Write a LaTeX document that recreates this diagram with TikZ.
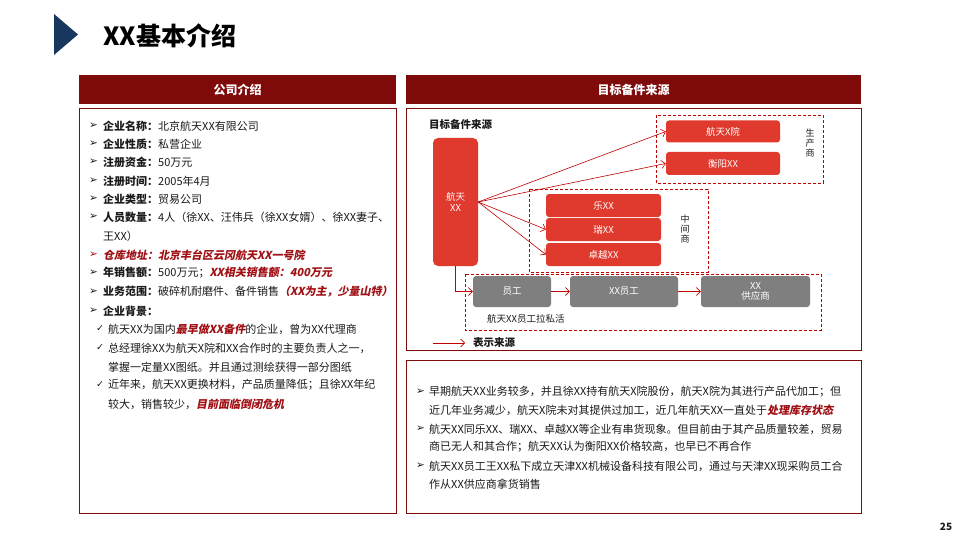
\documentclass[tikz,border=0pt]{standalone}
\usepackage{fontspec}
\setmainfont{Noto Sans CJK SC}
\newfontfamily\slantfont{Noto Sans CJK SC}[FakeSlant=0.2]
\newfontfamily\symfont{DejaVu Sans}
\usetikzlibrary{arrows.meta}
\definecolor{hdred}{HTML}{7F0A0A}
\definecolor{boxred}{HTML}{E0392D}
\definecolor{boxgray}{HTML}{7F7F7F}
\definecolor{arrred}{HTML}{C00000}
\definecolor{hlred}{HTML}{A00F14}
\definecolor{navy}{HTML}{17375E}
\definecolor{textc}{HTML}{1A1A1A}
\newcommand{\blt}{{\symfont\fontsize{10.5}{12}\selectfont ➢}}
\newcommand{\chk}{{\symfont\fontsize{9.5}{11}\selectfont ✓}}
\newcommand{\hl}[1]{{\slantfont\bfseries\color{hlred}#1}}
\begin{document}
\begin{tikzpicture}[x=1pt,y=-1pt,
  txt/.style={anchor=west, inner sep=0pt, font=\fontsize{11}{13}\selectfont, text=textc},
  bulletmark/.style={anchor=west, inner sep=0pt, text=textc},
  hdr/.style={fill=hdred, text=white, font=\fontsize{12}{14}\selectfont\bfseries, inner sep=0pt, minimum height=29pt, minimum width=317pt},
  panel/.style={draw=hdred, line width=0.8pt},
  redbox/.style={fill=boxred, rounded corners=3pt, text=white, inner sep=0pt, font=\fontsize{9.5}{11}\selectfont, align=center},
  graybox/.style={fill=boxgray, rounded corners=3pt, text=white, inner sep=0pt, font=\fontsize{9.5}{10.5}\selectfont, align=center, minimum height=31pt},
  dbox/.style={draw=arrred, dashed, dash pattern=on 3pt off 2pt, line width=0.8pt},
  arr/.style={draw=arrred, line width=0.6pt, -{Straight Barb[length=4pt,width=8pt]}},
  vlab/.style={inner sep=0pt, align=center, font=\fontsize{9}{10}\selectfont, text=textc}
]
\useasboundingbox (0,0) rectangle (960,540);
\fill[white] (0,0) rectangle (960,540);
% title
\fill[navy] (54,14) -- (78,34.5) -- (54,55) -- cycle;
\node[anchor=west, inner sep=0pt, font=\fontsize{25}{29}\selectfont\bfseries, text=black] (title) at (103,36) {XX基本介绍};
% headers
\node[hdr, minimum width=317pt] (hl) at (237.5,89.5) {公司介绍};
\node[hdr, minimum width=455pt] (hr) at (633.5,89.5) {目标备件来源};
% panels
\draw[panel] (79,108) rectangle (396,513);
\draw[panel] (406,108) rectangle (861,350);
\draw[panel] (406,360) rectangle (861,513);
% left text
\foreach \yy in {126,144,162,181,199,217,273,292,311} {\node[bulletmark] at (89,\yy) {\blt};}
\node[bulletmark, text=hlred] at (89,255) {\blt};
\foreach \yy in {329,348,385} {\node[bulletmark] at (96,\yy) {\chk};}
\node[txt] (l1) at (103,126) {\textbf{企业名称：}北京航天XX有限公司};
\node[txt] (l2) at (103,144) {\textbf{企业性质：}私营企业};
\node[txt] (l3) at (103,162) {\textbf{注册资金：}50万元};
\node[txt] (l4) at (103,181) {\textbf{注册时间：}2005年4月};
\node[txt] (l5) at (103,199) {\textbf{企业类型：}贸易公司};
\node[txt] (l6) at (103,217) {\textbf{人员数量：}4人（徐XX、汪伟兵（徐XX女婿）、徐XX妻子、};
\node[txt] (l7) at (103,236) {王XX）};
\node[txt] (l8) at (103,255) {\hl{仓库地址：北京丰台区云冈航天XX一号院}};
\node[txt] (l9) at (103,273) {\textbf{年销售额：}500万元；\hl{XX相关销售额：400万元}};
\node[txt] (l10) at (103,292) {\textbf{业务范围：}破碎机耐磨件、备件销售\hl{（XX为主，少量山特）}};
\node[txt] (l11) at (103,311) {\textbf{企业背景：}};
\node[txt] (l12) at (108,329) {航天XX为国内\hl{最早做XX备件}的企业，曾为XX代理商};
\node[txt] (l13) at (108,348) {总经理徐XX为航天X院和XX合作时的主要负责人之一，};
\node[txt] (l14) at (108,367) {掌握一定量XX图纸。并且通过测绘获得一部分图纸};
\node[txt] (l15) at (108,385) {近年来，航天XX更换材料，产品质量降低；且徐XX年纪};
\node[txt] (l16) at (108,404) {较大，销售较少，\hl{目前面临倒闭危机}};
% right text
\foreach \yy in {392,429,466} {\node[bulletmark] at (416,\yy) {\blt};}
\node[txt] (r1) at (429,392) {早期航天XX业务较多，并且徐XX持有航天X院股份，航天X院为其进行产品代加工；但};
\node[txt] (r2) at (429,410) {近几年业务减少，航天X院未对其提供过加工，近几年航天XX一直处于\hl{处理库存状态}};
\node[txt] (r3) at (429,429) {航天XX同乐XX、瑞XX、卓越XX等企业有串货现象。但目前由于其产品质量较差，贸易};
\node[txt] (r4) at (429,447) {商已无人和其合作；航天XX认为衡阳XX价格较高，也早已不再合作};
\node[txt] (r5) at (429,466) {航天XX员工王XX私下成立天津XX机械设备科技有限公司，通过与天津XX现采购员工合};
\node[txt] (r6) at (429,484) {作从XX供应商拿货销售};
% diagram
\node[anchor=west, inner sep=0pt, font=\fontsize{10.5}{12}\selectfont\bfseries, text=textc] (dtitle) at (429,124) {目标备件来源};
\draw[dbox] (656,115) rectangle (823,183);
\draw[dbox] (529,189) rectangle (708,272);
\draw[dbox] (465,274) rectangle (821,330);
\node[redbox, minimum width=45pt, minimum height=128pt, rounded corners=5pt] (src) at (455.5,202) {航天\\XX};
\node[redbox, minimum width=114pt, minimum height=22pt] (p1) at (723,131.5) {航天X院};
\node[redbox, minimum width=114pt, minimum height=23pt] (p2) at (723,163.5) {衡阳XX};
\node[redbox, minimum width=115pt, minimum height=23pt] (m1) at (603.5,205.5) {乐XX};
\node[redbox, minimum width=115pt, minimum height=23pt] (m2) at (603.5,229.5) {瑞XX};
\node[redbox, minimum width=115pt, minimum height=23pt] (m3) at (603.5,254.5) {卓越XX};
\node[graybox, minimum width=78pt] (g1) at (512,291.5) {员工};
\node[graybox, minimum width=108pt] (g2) at (624,291.5) {XX员工};
\node[graybox, minimum width=109pt] (g3) at (755.5,291.5) {XX\\供应商};
\node[vlab] (vp) at (810,143) {生\\产\\商};
\node[vlab] (vm) at (685,229) {中\\间\\商};
\node[anchor=west, inner sep=0pt, font=\fontsize{9.5}{11}\selectfont, text=textc] (slab) at (487,319) {航天XX员工拉私活};
\draw[arr] (src.east) -- (p1.west);
\draw[arr] (src.east) -- (p2.west);
\draw[arr] (src.east) -- (m2.west);
\draw[arr] (src.east) -- (m3.west);
\draw[arr] (src.south) |- (g1.west);
\draw[arr] (g1.east) -- (g2.west);
\draw[arr] (g2.east) -- (g3.west);
% legend
\coordinate (la) at (433,343);
\coordinate (lb) at (465,343);
\draw[arr] (la) -- (lb);
\node[anchor=west, inner sep=0pt, font=\fontsize{10.5}{12}\selectfont\bfseries, text=textc] (ltxt) at (473,343) {表示来源};
% page number
\node[inner sep=0pt, font=\fontsize{10}{12}\selectfont\bfseries, text=textc] (pg) at (946,527) {25};
\end{tikzpicture}
\end{document}
